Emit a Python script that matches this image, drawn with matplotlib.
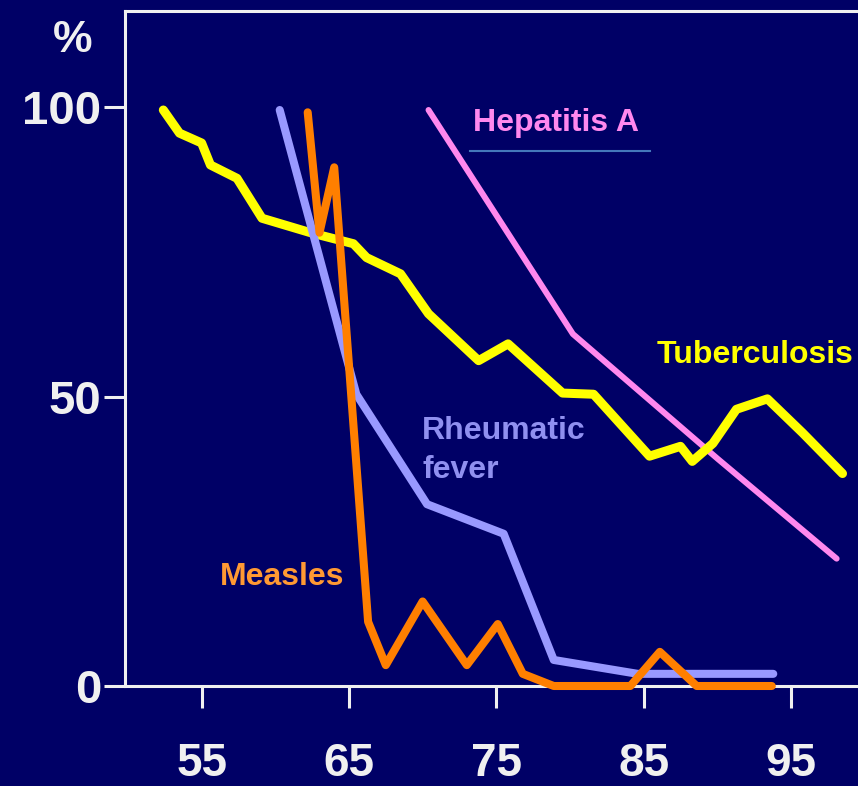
import matplotlib.pyplot as plt

# años (19xx) y porcentaje respecto al valor inicial
tb_anio = [52.4, 53.5, 55.0, 55.6, 57.4, 59.1, 62.4, 65.3, 66.2, 68.5, 70.4, 73.8, 75.8,
           79.5, 81.6, 85.4, 87.5, 88.3, 89.7, 91.3, 93.4, 95.8, 98.5]
tb_pct = [99.5, 95.5, 93.8, 90.0, 87.7, 80.8, 78.3, 76.4, 74.0, 71.2, 64.3, 56.2, 59.1,
          50.6, 50.4, 39.7, 41.4, 38.8, 41.9, 47.8, 49.6, 43.7, 36.7]

fr_anio = [60.3, 65.5, 70.3, 75.5, 78.9, 84.6, 93.8]
fr_pct = [99.5, 50.4, 31.4, 26.3, 4.5, 2.1, 2.1]

sar_anio = [62.2, 63.0, 64.0, 66.3, 67.5, 70.0, 73.0, 75.1, 76.8, 78.9, 84.1, 86.1, 88.6, 93.7]
sar_pct = [99.1, 78.3, 89.6, 11.1, 3.6, 14.6, 3.6, 10.7, 2.1, 0.0, 0.0, 5.9, 0.0, 0.0]

hep_anio = [70.4, 80.2, 90.0, 98.1]
hep_pct = [99.5, 60.8, 39.3, 22.0]

xticks = [55, 65, 75, 85, 95]
yticks = [0, 50, 100]

fondo = '#000066'
blanco = '#f0f0f0'

fig = plt.figure(figsize=(8.58, 7.86), dpi=100)
fig.patch.set_facecolor(fondo)
ax = fig.add_axes([125 / 858, 100 / 786, 1 - 125 / 858, 675 / 786])
ax.set_facecolor(fondo)

estilo = dict(solid_joinstyle='round', solid_capstyle='round', clip_on=False, zorder=3)
ax.plot(hep_anio, hep_pct, color='#ff88ee', lw=4.3, **estilo)
ax.plot(tb_anio, tb_pct, color='#ffff00', lw=6.5, **estilo)
ax.plot(fr_anio, fr_pct, color='#9999ff', lw=5.8, **estilo)
ax.plot(sar_anio, sar_pct, color='#ff7f00', lw=5.8, **estilo)

ax.set_xlim(49.8, 99.55)
ax.set_ylim(0, 116.6)

for lado in ['left', 'bottom', 'top']:
    ax.spines[lado].set_color(blanco)
    ax.spines[lado].set_linewidth(2.2)
ax.spines['right'].set_visible(False)

fuente = 'Liberation Sans'
ax.set_xticks(xticks)
ax.set_yticks(yticks)
ax.set_xticklabels([str(v) for v in xticks], fontsize=33, fontweight='bold',
                   color=blanco, family=fuente)
ax.set_yticklabels([str(v) for v in yticks], fontsize=34, fontweight='bold',
                   color=blanco, family=fuente)
ax.tick_params(axis='x', direction='out', length=16, width=2.2, color=blanco, pad=24)
ax.tick_params(axis='y', direction='out', length=15, width=2.2, color=blanco, pad=2)

fig.text(73 / 858, 1 - 40 / 786, '%', fontsize=32, fontweight='bold', color=blanco,
         family=fuente, ha='center', va='center')

# etiquetas de las series
etq = dict(fontsize=23, fontweight='bold', family=fuente, va='baseline', ha='left')
ax.text(73.4, 95.8, 'Hepatitis A', color='#ff88ee', **etq)
ax.plot([73.2, 85.4], [92.4, 92.4], color='#4477bb', lw=1.5)
ax.text(85.9, 55.8, 'Tuberculosis', color='#ffff00', **etq)
ax.text(69.96, 42.6, 'Rheumatic', color='#9090f0', **etq)
ax.text(69.96, 36.0, 'fever', color='#9090f0', **etq)
ax.text(56.25, 17.5, 'Measles', color='#ff9933', **etq)

plt.savefig('out.png', dpi=100, facecolor=fondo)
